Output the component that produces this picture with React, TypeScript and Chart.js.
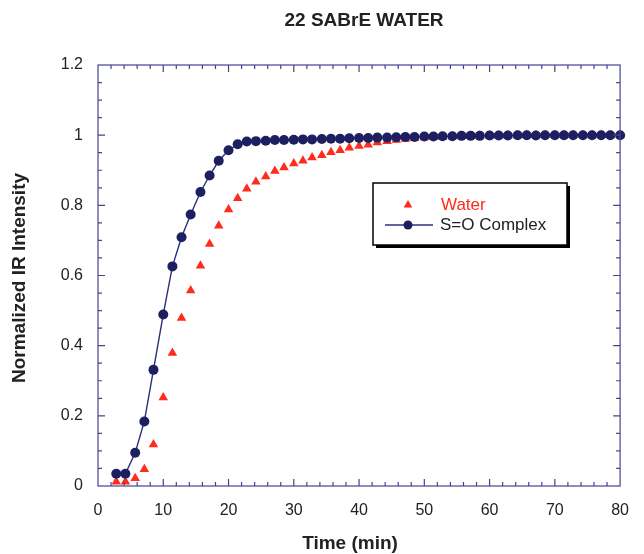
import React, { useEffect, useRef } from "react";
import { Chart, registerables } from "chart.js";

Chart.register(...registerables);

const TITLE = "22 SABrE WATER";
const X_TITLE = "Time (min)";
const Y_TITLE = "Normalized IR Intensity";
const SERIES_NAMES = ["Water", "S=O Complex"];

const timeMin = [
  2.8, 4.2, 5.7, 7.1, 8.5, 10.0, 11.4, 12.8, 14.2, 15.7, 17.1, 18.5, 20.0, 21.4,
  22.8, 24.2, 25.7, 27.1, 28.5, 30.0, 31.4, 32.8, 34.3, 35.7, 37.1, 38.5, 40.0,
  41.4, 42.8, 44.3, 45.7, 47.1, 48.5, 50.0, 51.4, 52.8, 54.3, 55.7, 57.1, 58.5,
  60.0, 61.4, 62.8, 64.3, 65.7, 67.1, 68.5, 70.0, 71.4, 72.8, 74.3, 75.7, 77.1,
  78.5, 80.0,
];

const waterValues = [
  0.012, 0.012, 0.022, 0.048, 0.118, 0.252, 0.379, 0.479, 0.557, 0.628, 0.69,
  0.742, 0.788, 0.82, 0.847, 0.867, 0.882, 0.898, 0.908, 0.919, 0.927, 0.936,
  0.943, 0.951, 0.957, 0.964, 0.969, 0.973, 0.979, 0.983, 0.986, 0.989, 0.991,
  0.993, 0.994, 0.995, 0.996, 0.997, 0.997, 0.998, 0.998, 0.999, 0.999, 0.999,
  1.0, 1.0, 1.0, 1.0, 1.0, 1.0, 1.0, 1.0, 1.0, 1.0, 1.0,
];

const complexValues = [
  0.035, 0.035, 0.095, 0.184, 0.331, 0.489, 0.626, 0.709, 0.774, 0.838, 0.885,
  0.927, 0.957, 0.974, 0.982, 0.983, 0.984, 0.986, 0.986, 0.987, 0.988, 0.988,
  0.989, 0.99, 0.99, 0.991, 0.992, 0.992, 0.993, 0.993, 0.994, 0.995, 0.995,
  0.996, 0.996, 0.997, 0.997, 0.998, 0.998, 0.998, 0.999, 0.999, 0.999, 1.0,
  1.0, 0.999, 1.0, 1.0, 1.0, 1.0, 1.0, 1.0, 1.0, 1.0, 1.0,
];

const X_MIN = 0, X_MAX = 80, X_MAJOR = 10, X_MINOR = 2;
const Y_MIN = 0, Y_MAX = 1.2, Y_MAJOR = 0.2, Y_MINOR = 0.05;

const AXIS_COLOR = "#43448f";
const RED = "#ff2b1c";
const NAVY = "#1d2060";
const NAVY_LINE = "#2c2f7a";
const TEXT = "#222222";
const FONT = "'Liberation Sans', Arial, Helvetica, sans-serif";

const framePlugin = {
  id: "frame",
  afterDatasetsDraw(chart: any) {
    const { ctx, chartArea, scales } = chart;
    const { left, right, top, bottom } = chartArea;
    const xs = scales.x, ys = scales.y;
    ctx.save();
    ctx.strokeStyle = AXIS_COLOR;
    ctx.lineWidth = 1.2;
    ctx.strokeRect(left, top, right - left, bottom - top);
    ctx.beginPath();
    const nx = Math.round((X_MAX - X_MIN) / X_MINOR);
    for (let i = 1; i < nx; i++) {
      const v = X_MIN + i * X_MINOR;
      const px = xs.getPixelForValue(v);
      const major = Math.abs(v / X_MAJOR - Math.round(v / X_MAJOR)) < 1e-6;
      const len = major ? 7 : 4;
      ctx.moveTo(px, bottom);
      ctx.lineTo(px, bottom - len);
      ctx.moveTo(px, top);
      ctx.lineTo(px, top + len);
    }
    const ny = Math.round((Y_MAX - Y_MIN) / Y_MINOR);
    for (let i = 1; i < ny; i++) {
      const v = Y_MIN + i * Y_MINOR;
      const py = ys.getPixelForValue(v);
      const major = Math.abs(v / Y_MAJOR - Math.round(v / Y_MAJOR)) < 1e-6;
      const len = major ? 7 : 4;
      ctx.moveTo(left, py);
      ctx.lineTo(left + len, py);
      ctx.moveTo(right, py);
      ctx.lineTo(right - len, py);
    }
    ctx.stroke();

    ctx.fillStyle = TEXT;
    ctx.textAlign = "center";
    ctx.textBaseline = "middle";
    ctx.font = `bold 19px ${FONT}`;
    ctx.fillText(TITLE, 364, 21);
    ctx.fillText(X_TITLE, 350, 544);
    ctx.save();
    ctx.translate(20, 278);
    ctx.rotate(-Math.PI / 2);
    ctx.fillText(Y_TITLE, 0, 0);
    ctx.restore();

    const lx = 373, ly = 183, lw = 194, lh = 62;
    ctx.fillStyle = "#000";
    ctx.fillRect(lx + 3, ly + 3, lw, lh);
    ctx.fillStyle = "#fff";
    ctx.fillRect(lx, ly, lw, lh);
    ctx.strokeStyle = "#000";
    ctx.lineWidth = 1.5;
    ctx.strokeRect(lx, ly, lw, lh);
    ctx.fillStyle = RED;
    const tx = 408, ty = 205, tr = 5;
    ctx.beginPath();
    ctx.moveTo(tx, ty - tr);
    ctx.lineTo(tx + tr * 0.866, ty + tr * 0.5);
    ctx.lineTo(tx - tr * 0.866, ty + tr * 0.5);
    ctx.closePath();
    ctx.fill();
    ctx.font = `17px ${FONT}`;
    ctx.textAlign = "left";
    ctx.fillText(SERIES_NAMES[0], 441, 205);
    ctx.strokeStyle = NAVY_LINE;
    ctx.lineWidth = 1.3;
    ctx.beginPath();
    ctx.moveTo(385, 225);
    ctx.lineTo(433, 225);
    ctx.stroke();
    ctx.fillStyle = NAVY;
    ctx.beginPath();
    ctx.arc(408, 225, 4.5, 0, Math.PI * 2);
    ctx.fill();
    ctx.fillStyle = TEXT;
    ctx.fillText(SERIES_NAMES[1], 440, 225);
    ctx.restore();
  },
};

export default function App() {
  const ref = useRef<HTMLCanvasElement | null>(null);
  useEffect(() => {
    if (!ref.current) return;
    const chart = new Chart(ref.current, {
      type: "scatter",
      data: {
        datasets: [
          {
            label: SERIES_NAMES[0],
            data: timeMin.map((t, i) => ({ x: t, y: waterValues[i] })),
            showLine: false,
            pointStyle: "triangle",
            pointRadius: 5.5,
            pointBackgroundColor: RED,
            pointBorderColor: RED,
            pointBorderWidth: 0,
            order: 2,
            clip: false as any,
          },
          {
            label: SERIES_NAMES[1],
            data: timeMin.map((t, i) => ({ x: t, y: complexValues[i] })),
            showLine: true,
            borderColor: NAVY_LINE,
            borderWidth: 1.4,
            tension: 0,
            pointStyle: "circle",
            pointRadius: 5,
            pointBackgroundColor: NAVY,
            pointBorderColor: NAVY,
            pointBorderWidth: 0,
            order: 1,
            clip: false as any,
          },
        ],
      },
      options: {
        responsive: false,
        animation: false,
        layout: { padding: { left: 0, right: 9, top: 65, bottom: 0 } },
        plugins: {
          legend: { display: false },
          title: { display: false },
          tooltip: { enabled: false },
        },
        scales: {
          x: {
            type: "linear",
            min: X_MIN,
            max: X_MAX,
            grid: { display: false, drawTicks: false },
            border: { display: false },
            ticks: {
              stepSize: X_MAJOR,
              padding: 15,
              color: TEXT,
              font: { family: FONT, size: 16 },
              maxRotation: 0,
              callback: (v: any) => String(Number(Number(v).toFixed(2))),
            },
            afterFit: (s: any) => {
              s.height = 68;
            },
          },
          y: {
            type: "linear",
            min: Y_MIN,
            max: Y_MAX,
            grid: { display: false, drawTicks: false },
            border: { display: false },
            ticks: {
              stepSize: Y_MAJOR,
              padding: 15,
              color: TEXT,
              font: { family: FONT, size: 16 },
              callback: (v: any) => String(Number(Number(v).toFixed(2))),
            },
            afterFit: (s: any) => {
              s.width = 98;
            },
          },
        },
      },
      plugins: [framePlugin],
    });
    return () => chart.destroy();
  }, []);
  return (
    <div style={{ position: "absolute", left: 0, top: 0, width: 644, height: 554, background: "#fff" }}>
      <canvas ref={ref} width={644} height={554} />
    </div>
  );
}
